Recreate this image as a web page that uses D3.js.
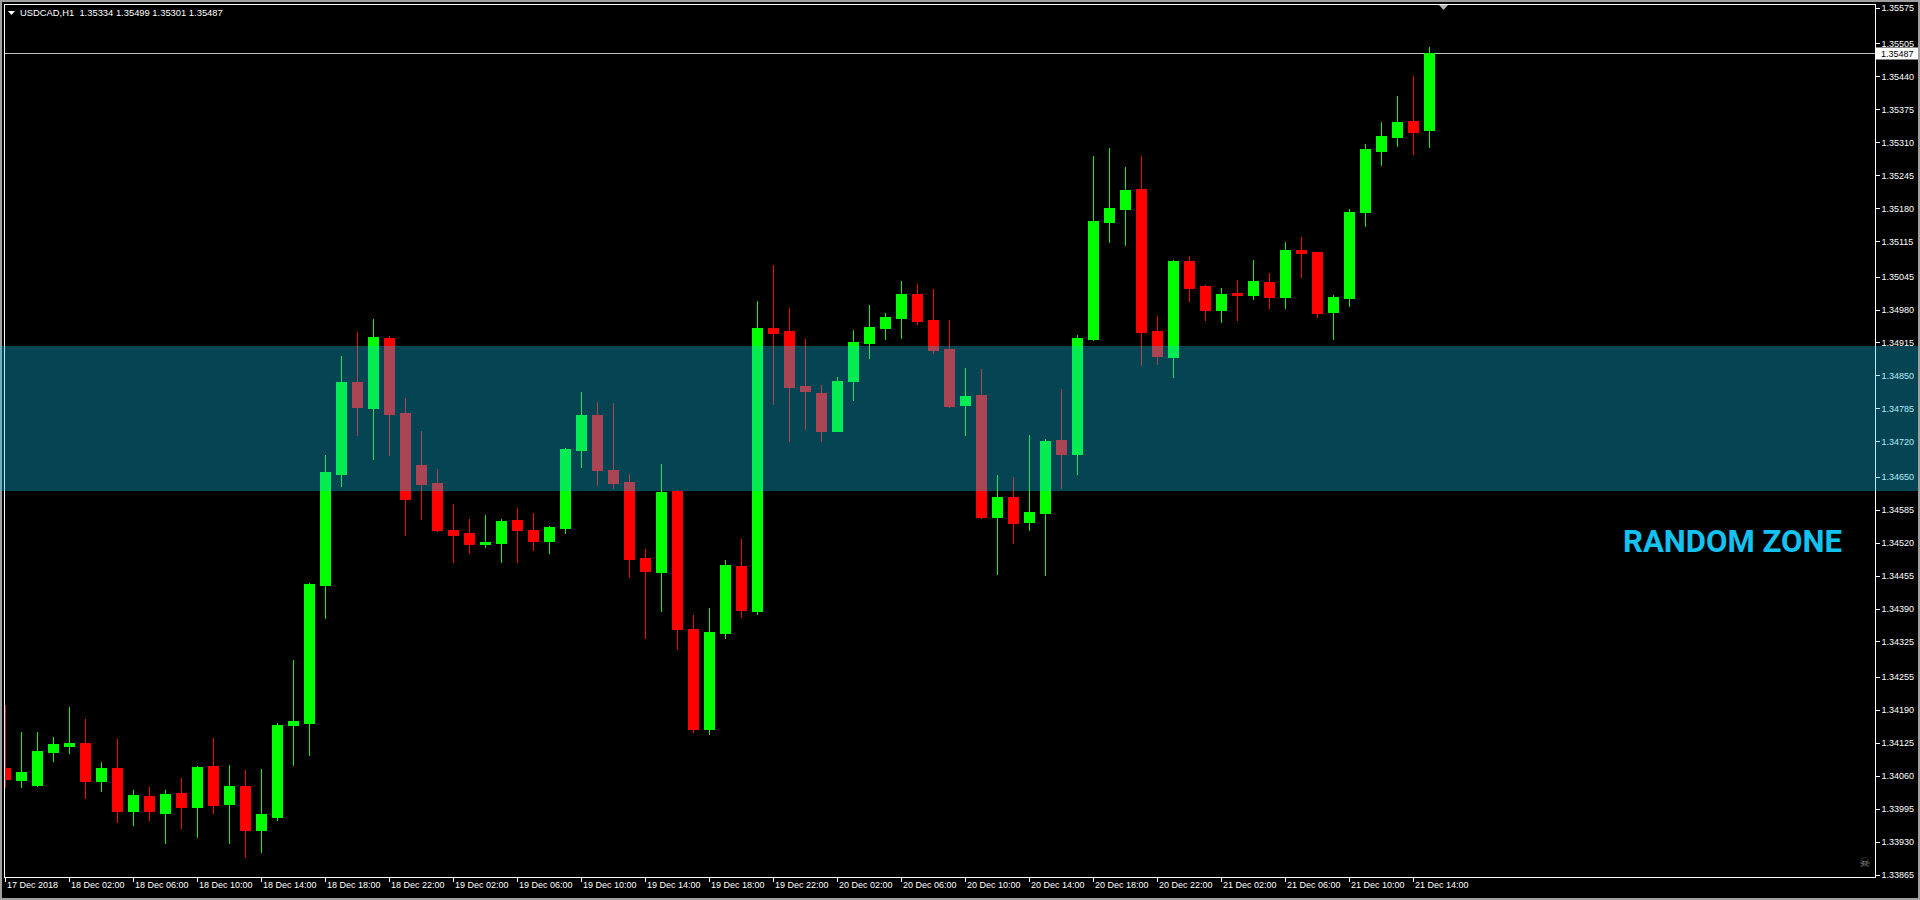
<!DOCTYPE html>
<html><head><meta charset="utf-8">
<script src="https://cdn.jsdelivr.net/npm/d3@7"></script>
<style>html,body{margin:0;padding:0;background:#000;overflow:hidden}</style>
</head><body><svg id="c" width="1920" height="900"></svg>
<script>
// ---------- DATA ----------
const headerText = "USDCAD,H1  1.35334 1.35499 1.35301 1.35487";
const openP = [1.34075,1.34052,1.34042,1.34107,1.34119,1.34125,1.34050,1.34075,1.33991,1.34020,
1.33987,1.34026,1.33998,1.34079,1.34004,1.34040,1.33953,1.33979,1.34160,1.34164,
1.34437,1.34656,1.34837,1.34786,1.34924,1.34776,1.34673,1.34638,1.34545,1.34539,
1.34518,1.34520,1.34565,1.34545,1.34524,1.34548,1.34703,1.34772,1.34663,1.34640,
1.34490,1.34463,1.34622,1.34350,1.34153,1.34342,1.34474,1.34386,1.34944,1.34938,
1.34829,1.34815,1.34741,1.34838,1.34913,1.34944,1.34964,1.35011,1.34959,1.34902,
1.34792,1.34811,1.34571,1.34610,1.34561,1.34579,1.34723,1.34694,1.34922,1.35153,
1.35179,1.35218,1.34938,1.34887,1.35076,1.35026,1.34980,1.35013,1.35009,1.35034,
1.35005,1.35097,1.35093,1.34976,1.35003,1.35173,1.35293,1.35321,1.35352,1.35334];
const highP = [1.34200,1.34146,1.34146,1.34137,1.34196,1.34172,1.34087,1.34133,1.34032,1.34038,
1.34032,1.34056,1.34079,1.34135,1.34081,1.34071,1.34073,1.34164,1.34289,1.34440,
1.34693,1.34888,1.34936,1.34961,1.34928,1.34805,1.34740,1.34665,1.34596,1.34567,
1.34575,1.34567,1.34588,1.34578,1.34553,1.34707,1.34817,1.34798,1.34796,1.34655,
1.34507,1.34675,1.34624,1.34377,1.34391,1.34486,1.34527,1.34997,1.35068,1.34983,
1.34922,1.34831,1.34847,1.34940,1.34989,1.34973,1.35036,1.35030,1.35021,1.34959,
1.34865,1.34863,1.34654,1.34650,1.34732,1.34725,1.34823,1.34930,1.35283,1.35299,
1.35261,1.35283,1.34967,1.35077,1.35086,1.35028,1.35022,1.35038,1.35078,1.35052,
1.35113,1.35123,1.35094,1.35009,1.35178,1.35307,1.35350,1.35401,1.35441,1.35499];
const lowP = [1.34038,1.34038,1.34040,1.34090,1.34105,1.34017,1.34030,1.33969,1.33963,1.33973,
1.33927,1.33957,1.33939,1.33987,1.33927,1.33900,1.33910,1.33973,1.34081,1.34101,
1.34371,1.34632,1.34733,1.34686,1.34692,1.34536,1.34567,1.34543,1.34481,1.34500,
1.34512,1.34481,1.34482,1.34506,1.34500,1.34540,1.34670,1.34634,1.34628,1.34453,
1.34331,1.34386,1.34311,1.34147,1.34143,1.34332,1.34374,1.34380,1.34794,1.34721,
1.34745,1.34721,1.34741,1.34802,1.34885,1.34922,1.34924,1.34952,1.34895,1.34788,
1.34733,1.34569,1.34459,1.34520,1.34544,1.34457,1.34628,1.34656,1.34920,1.35114,
1.35108,1.34871,1.34872,1.34847,1.34997,1.34960,1.34956,1.34960,1.35001,1.34984,
1.34984,1.35045,1.34966,1.34922,1.34986,1.35145,1.35266,1.35303,1.35286,1.35301];
const closeP = [1.34054,1.34067,1.34109,1.34123,1.34125,1.34050,1.34075,1.33991,1.34022,1.33991,
1.34024,1.33998,1.34077,1.34002,1.34040,1.33953,1.33985,1.34160,1.34168,1.34438,
1.34659,1.34837,1.34788,1.34926,1.34774,1.34607,1.34636,1.34544,1.34536,1.34518,
1.34521,1.34563,1.34544,1.34524,1.34551,1.34705,1.34772,1.34664,1.34638,1.34488,
1.34465,1.34620,1.34350,1.34153,1.34344,1.34476,1.34388,1.34944,1.34934,1.34828,
1.34820,1.34741,1.34839,1.34916,1.34946,1.34965,1.35011,1.34958,1.34901,1.34790,
1.34809,1.34571,1.34610,1.34559,1.34581,1.34721,1.34694,1.34924,1.35155,1.35180,
1.35216,1.34936,1.34889,1.35076,1.35023,1.34980,1.35011,1.35009,1.35036,1.35005,
1.35097,1.35092,1.34974,1.35005,1.35172,1.35297,1.35322,1.35350,1.35331,1.35487];
const xTickLabels = ["17 Dec 2018","18 Dec 02:00","18 Dec 06:00","18 Dec 10:00","18 Dec 14:00","18 Dec 18:00","18 Dec 22:00",
"19 Dec 02:00","19 Dec 06:00","19 Dec 10:00","19 Dec 14:00","19 Dec 18:00","19 Dec 22:00",
"20 Dec 02:00","20 Dec 06:00","20 Dec 10:00","20 Dec 14:00","20 Dec 18:00","20 Dec 22:00",
"21 Dec 02:00","21 Dec 06:00","21 Dec 10:00","21 Dec 14:00"];
const xTickBars = [0,4,8,12,16,20,24,28,32,36,40,44,48,52,56,60,64,68,72,76,80,84,88];
const yTickLabels = ["1.35575","1.35505","1.35440","1.35375","1.35310","1.35245","1.35180","1.35115","1.35045",
"1.34980","1.34915","1.34850","1.34785","1.34720","1.34650","1.34585","1.34520","1.34455","1.34390",
"1.34325","1.34255","1.34190","1.34125","1.34060","1.33995","1.33930","1.33865"];
const lastPrice = 1.35487;
const zoneTop = 1.34908, zoneBottom = 1.34622;
const zoneLabel = "RANDOM ZONE";

// ---------- LAYOUT ----------
const W = 1920, H = 900;
const plotL = 4, plotT = 4, plotR = 1875, plotB = 877;
const svg = d3.select("#c");
const FONT = "'Liberation Sans', Arial, sans-serif";

const yTicks = yTickLabels.map(Number);
const x = d3.scaleLinear().domain([0, 89]).range([5.5, 5.5 + 16 * 89]);
const y = d3.scaleLinear().domain([1.35575, 1.33865]).range([8, 874.6]);

svg.append("rect").attr("width", W).attr("height", H).attr("fill", "#a0a0a0");
svg.append("rect").attr("x", 2).attr("y", 2).attr("width", W - 4).attr("height", H - 4).attr("fill", "#000");

// plot frame
const fr = svg.append("g").attr("stroke", "#fff").attr("stroke-width", 1).attr("shape-rendering", "crispEdges");
fr.append("line").attr("x1", plotL).attr("x2", plotR + 1).attr("y1", plotT + 0.5).attr("y2", plotT + 0.5);
fr.append("line").attr("x1", plotL + 0.5).attr("x2", plotL + 0.5).attr("y1", plotT).attr("y2", plotB + 1);
fr.append("line").attr("x1", plotL).attr("x2", plotR + 1).attr("y1", plotB + 0.5).attr("y2", plotB + 0.5);
fr.append("line").attr("x1", plotR + 0.5).attr("x2", plotR + 0.5).attr("y1", plotT).attr("y2", plotB + 1);

// clip for candles
svg.append("clipPath").attr("id", "clip").append("rect")
  .attr("x", plotL + 1).attr("y", plotT + 1).attr("width", plotR - plotL - 1).attr("height", plotB - plotT - 1);

// last price line
const yl = Math.round(y(lastPrice)) + 0.5;
svg.append("line").attr("x1", plotL + 1).attr("x2", plotR).attr("y1", yl).attr("y2", yl)
  .attr("stroke", "#c0c0c0").attr("stroke-width", 1).attr("shape-rendering", "crispEdges");

// candles
const bars = d3.range(openP.length).map(i => ({ i, o: openP[i], h: highP[i], l: lowP[i], c: closeP[i] }));
const cg = svg.append("g").attr("clip-path", "url(#clip)").attr("shape-rendering", "crispEdges");
const col = d => d.c >= d.o ? "#00ff00" : "#ff0000";
cg.selectAll("line.w").data(bars).join("line").attr("class", "w")
  .attr("x1", d => Math.floor(x(d.i)) + 0.5).attr("x2", d => Math.floor(x(d.i)) + 0.5)
  .attr("y1", d => Math.round(y(d.h))).attr("y2", d => Math.round(y(d.l)) + 1)
  .attr("stroke", col).attr("stroke-width", 1);
cg.selectAll("rect.b").data(bars).join("rect").attr("class", "b")
  .attr("x", d => Math.floor(x(d.i)) - 5).attr("width", 11)
  .attr("y", d => Math.round(y(Math.max(d.o, d.c))))
  .attr("height", d => Math.max(1, Math.round(y(Math.min(d.o, d.c))) - Math.round(y(Math.max(d.o, d.c))) + 1))
  .attr("fill", col);

// right axis
const ya = svg.append("g").attr("transform", `translate(${plotR + 0.5},0)`)
  .call(d3.axisRight(y).tickValues(yTicks).tickFormat((d, i) => yTickLabels[i]).tickSize(4).tickSizeOuter(0).tickPadding(2));
ya.select(".domain").remove();
ya.selectAll("line").attr("stroke", "#fff").attr("shape-rendering", "crispEdges");
ya.selectAll("text").attr("fill", "#fff").style("font-family", FONT).style("font-size", "9px");

// last price label box
svg.append("rect").attr("x", plotR + 1).attr("y", yl - 6).attr("width", 42).attr("height", 12).attr("fill", "#fff");
svg.append("text").attr("x", plotR + 6).attr("y", yl + 3.5).text(d3.format(".5f")(lastPrice))
  .attr("fill", "#000").style("font-family", FONT).style("font-size", "9px");

// bottom axis
const xa = svg.append("g").attr("transform", `translate(0,${plotB + 0.5})`)
  .call(d3.axisBottom(x).tickValues(xTickBars).tickFormat((d, i) => xTickLabels[i]).tickSize(4).tickSizeOuter(0));
xa.select(".domain").remove();
xa.selectAll("line").attr("stroke", "#fff").attr("shape-rendering", "crispEdges")
  .attr("transform", "translate(-0.5,0)");
xa.selectAll("text").attr("fill", "#fff").attr("text-anchor", "start").attr("dx", 0).attr("x", 1).attr("y", 4).attr("dy", "0.71em")
  .style("font-family", FONT).style("font-size", "9px");

// header
svg.append("path").attr("d", "M8,11 L15,11 L11.5,15 Z").attr("fill", "#fff");
svg.append("text").attr("x", 20).attr("y", 16).text(headerText).attr("xml:space", "preserve")
  .style("white-space", "pre").attr("fill", "#fff").style("font-family", FONT).style("font-size", "9.4px");

// shift marker
svg.append("path").attr("d", "M1439,5 L1448,5 L1443.5,10 Z").attr("fill", "#b4b4b4");

// EA icon
svg.append("text").attr("x", 1859).attr("y", 867).text("\u2620").attr("fill", "#808080")
  .style("font-family", "'DejaVu Sans'").style("font-size", "13px");

// zone overlay
svg.append("rect").attr("x", 0).attr("width", W - 2)
  .attr("y", Math.round(y(zoneTop))).attr("height", Math.round(y(zoneBottom)) - Math.round(y(zoneTop)))
  .attr("fill", "#0bc5f0").attr("fill-opacity", 0.345);

// zone label
svg.append("text").attr("x", 1623).attr("y", 552).text(zoneLabel)
  .attr("fill", "#12c2f0").style("font-family", "Roboto, sans-serif").style("font-weight", 700).style("font-size", "31px")
  .attr("textLength", 219).attr("lengthAdjust", "spacingAndGlyphs");
</script></body></html>
